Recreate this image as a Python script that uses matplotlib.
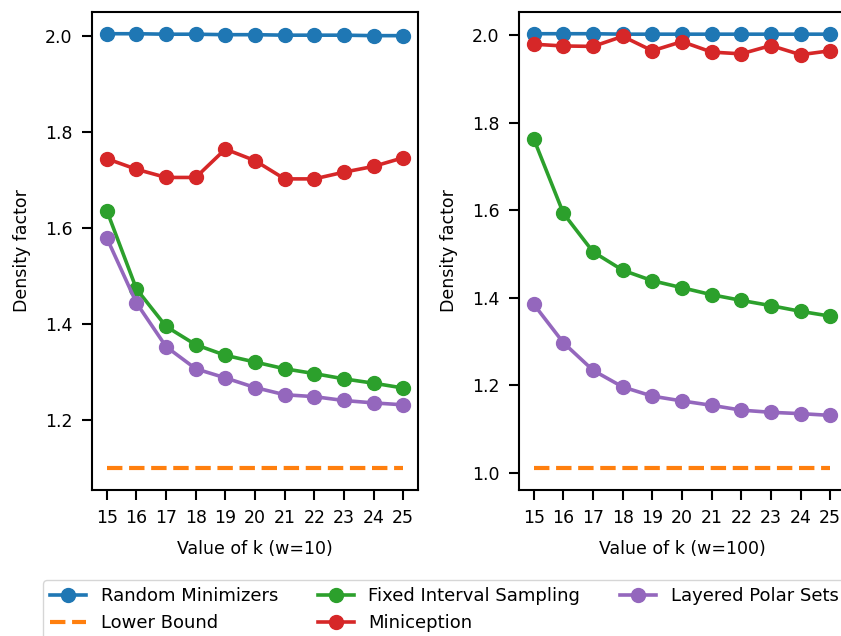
import matplotlib
matplotlib.use("Agg")
import matplotlib.pyplot as plt
import numpy as np

k_values = list(range(15, 26))

# w = 10
random_w10 = [2.004, 2.004, 2.003, 2.003, 2.002, 2.002, 2.001, 2.001, 2.001, 2.000, 2.000]
lower_w10 = [1.1] * 11
fixed_w10 = [1.636, 1.473, 1.395, 1.357, 1.335, 1.321, 1.307, 1.297, 1.286, 1.277, 1.267]
minicep_w10 = [1.744, 1.722, 1.705, 1.705, 1.764, 1.740, 1.702, 1.702, 1.716, 1.728, 1.746]
polar_w10 = [1.579, 1.444, 1.353, 1.307, 1.288, 1.268, 1.253, 1.249, 1.241, 1.236, 1.232]

# w = 100
random_w100 = [2.004, 2.004, 2.004, 2.003, 2.003, 2.003, 2.003, 2.003, 2.003, 2.003, 2.003]
lower_w100 = [1.01] * 11
fixed_w100 = [1.763, 1.593, 1.505, 1.463, 1.439, 1.423, 1.407, 1.394, 1.382, 1.369, 1.358]
minicep_w100 = [1.980, 1.976, 1.975, 1.998, 1.965, 1.986, 1.962, 1.958, 1.977, 1.956, 1.965]
polar_w100 = [1.385, 1.297, 1.234, 1.196, 1.175, 1.164, 1.154, 1.143, 1.138, 1.135, 1.131]

plt.rcParams['font.size'] = 12.5

fig = plt.figure(figsize=(8.41, 6.36), dpi=100)
W, H = 841, 636
ax1 = fig.add_axes([92 / W, 1 - 490 / H, 326 / W, 478 / H])
ax2 = fig.add_axes([519 / W, 1 - 490 / H, 326 / W, 478 / H])

lw = 2.6
ms = 10
for ax, rnd, low, fix, mini, pol, w in [
        (ax1, random_w10, lower_w10, fixed_w10, minicep_w10, polar_w10, 10),
        (ax2, random_w100, lower_w100, fixed_w100, minicep_w100, polar_w100, 100)]:
    ax.plot(k_values, rnd, marker='o', color='tab:blue', lw=lw, ms=ms, label='Random Minimizers')
    ax.plot(k_values, low, '--', color='tab:orange', lw=3, label='Lower Bound')
    ax.plot(k_values, fix, marker='o', color='tab:green', lw=lw, ms=ms, label='Fixed Interval Sampling')
    ax.plot(k_values, mini, marker='o', color='tab:red', lw=lw, ms=ms, label='Miniception')
    ax.plot(k_values, pol, marker='o', color='tab:purple', lw=lw, ms=ms, label='Layered Polar Sets')
    ax.set_xticks(k_values)
    ax.set_xlabel('Value of k (w=%d)' % w, labelpad=9)
    ax.set_ylabel('Density factor', labelpad=10)
    ax.tick_params(length=7, width=1.5, pad=7)
    for s in ax.spines.values():
        s.set_linewidth(1.5)

handles, labels = ax1.get_legend_handles_labels()
fig.legend(handles, labels, loc='upper left', bbox_to_anchor=(43 / W, 1 - 580 / H),
           ncol=3, fontsize=13, columnspacing=2.2, handlelength=2, handletextpad=0.8,
           borderaxespad=0)

fig.savefig('out.png', dpi=100)
